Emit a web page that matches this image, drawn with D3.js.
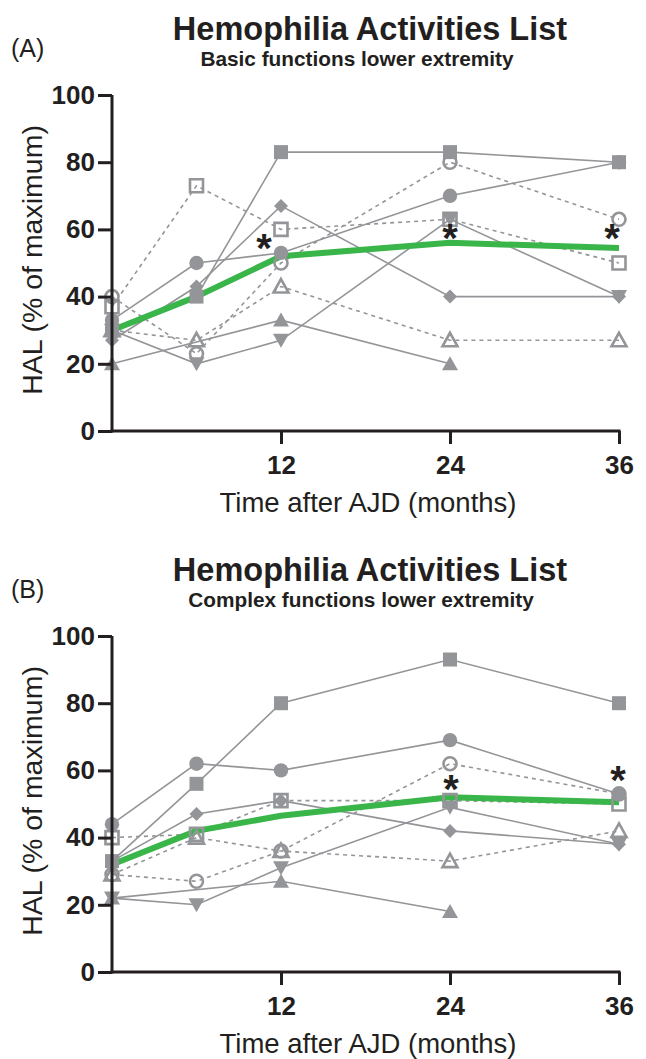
<!DOCTYPE html>
<html><head><meta charset="utf-8">
<script src="https://cdn.jsdelivr.net/npm/d3@7"></script>
<style>body{margin:0;background:#fff}svg{display:block}</style>
</head><body>
<svg id="c" width="646" height="1059"></svg>
<script>
// ---------- DATA ----------
const months = [0, 6, 12, 24, 36];
const xTickValues = [12, 24, 36];
const yTickValues = [0, 20, 40, 60, 80, 100];
const chartTitle = "Hemophilia Activities List";
const xLabel = "Time after AJD (months)";
const yLabel = "HAL (% of maximum)";

// Panel A - Basic functions lower extremity
const panelALabel = "(A)";
const panelASubtitle = "Basic functions lower extremity";
const aSquareFilled   = [30, 40, 83, 83, 80];
const aCircleFilled   = [33, 50, 53, 70, 80];
const aDiamondFilled  = [27, 43, 67, 40, 40];
const aTriUpFilled    = [20, null, 33, 20, null];
const aTriDownFilled  = [30, 20, 27, 63, 40];
const aSquareOpen     = [37, 73, 60, 63, 50];
const aCircleOpen     = [40, 23, 50, 80, 63];
const aTriUpOpen      = [30, 27, 43, 27, 27];
const aMean           = [30, 40, 52, 56, 54.5];
const aSigMonths      = [12, 24, 36];
const aSigLevels      = [56, 59, 59];

// Panel B - Complex functions lower extremity
const panelBLabel = "(B)";
const panelBSubtitle = "Complex functions lower extremity";
const bSquareFilled   = [33, 56, 80, 93, 80];
const bCircleFilled   = [44, 62, 60, 69, 53];
const bDiamondFilled  = [33, 47, 51, 42, 38];
const bTriUpFilled    = [22, null, 27, 18, null];
const bTriDownFilled  = [22, 20, 31, 49, 38];
const bSquareOpen     = [40, 41, 51, 51, 50];
const bCircleOpen     = [29, 27, 36, 62, 53];
const bTriUpOpen      = [29, 40, 36, 33, 42];
const bMean           = [32, 42, 46.5, 52, 50.5];
const bSigMonths      = [24, 36];
const bSigLevels      = [56, 58.6];

// ---------- STYLE ----------
const GRAY = "#939598", BLACK = "#231f20", GREEN = "#3ab54a";
const FONT = "'Liberation Sans', Arial, Helvetica, sans-serif";

function seriesList(sq, ci, di, tu, td, sqo, cio, tuo) {
  return [
    {v: sq,  shape: "square",  open: false},
    {v: ci,  shape: "circle",  open: false},
    {v: di,  shape: "diamond", open: false},
    {v: tu,  shape: "triUp",   open: false},
    {v: td,  shape: "triDown", open: false},
    {v: sqo, shape: "square",  open: true},
    {v: cio, shape: "circle",  open: true},
    {v: tuo, shape: "triUp",   open: true}
  ];
}

const panels = [
  {label: panelALabel, subtitle: panelASubtitle, top: 95, bottom: 431, yOff: 0,
   series: seriesList(aSquareFilled, aCircleFilled, aDiamondFilled, aTriUpFilled, aTriDownFilled, aSquareOpen, aCircleOpen, aTriUpOpen),
   mean: aMean, sigM: aSigMonths, sigL: aSigLevels, sigDx: [-17, 0, -7]},
  {label: panelBLabel, subtitle: panelBSubtitle, top: 636, bottom: 972, yOff: 541,
   series: seriesList(bSquareFilled, bCircleFilled, bDiamondFilled, bTriUpFilled, bTriDownFilled, bSquareOpen, bCircleOpen, bTriUpOpen),
   mean: bMean, sigM: bSigMonths, sigL: bSigLevels, sigDx: [1, -1]}
];

function shapePath(shape, open) {
  const s = open ? 6.5 : 7;
  switch (shape) {
    case "square": return `M${-s},${-s}H${s}V${s}H${-s}Z`;
    case "circle": { const r = open ? 6.5 : 7.2; return `M${r},0A${r},${r} 0 1,1 ${-r},0A${r},${r} 0 1,1 ${r},0Z`; }
    case "diamond": return `M0,-7L7,0L0,7L-7,0Z`;
    case "triUp": return open ? `M0,-7.5L7.5,6L-7.5,6Z` : `M0,-7.5L8,6.5L-8,6.5Z`;
    case "triDown": return `M0,7.5L8,-6.5L-8,-6.5Z`;
  }
}

const svg = d3.select("#c");
const x = d3.scaleLinear().domain([0, 36]).range([112, 619]);

panels.forEach(p => {
  const g = svg.append("g");
  const y = d3.scaleLinear().domain([0, 100]).range([p.bottom, p.top]);

  // headings
  g.append("text").attr("x", 11).attr("y", 57 + p.yOff)
    .attr("font-family", FONT).attr("font-size", 25).attr("fill", BLACK).text(p.label);
  g.append("text").attr("x", 370).attr("y", 40 + p.yOff).attr("text-anchor", "middle")
    .attr("font-family", FONT).attr("font-size", 32.5).attr("font-weight", "bold").attr("fill", BLACK).text(chartTitle);
  g.append("text").attr("x", p.yOff ? 361 : 357).attr("y", 66 + p.yOff).attr("text-anchor", "middle")
    .attr("font-family", FONT).attr("font-size", 20.8).attr("font-weight", "bold").attr("fill", BLACK).text(p.subtitle);

  // gray series lines
  const line = d3.line().x(d => x(d.m)).y(d => y(d.v));
  p.series.forEach(s => {
    const pts = months.map((m, i) => ({m, v: s.v[i]})).filter(d => d.v != null);
    g.append("path").attr("d", line(pts)).attr("fill", "none")
      .attr("stroke", GRAY).attr("stroke-width", 1.6)
      .attr("stroke-dasharray", s.open ? "4,4" : null);
  });

  // mean line
  const mpts = months.map((m, i) => ({m, v: p.mean[i]}));
  g.append("path").attr("d", line(mpts)).attr("fill", "none")
    .attr("stroke", GREEN).attr("stroke-width", 6).attr("stroke-linejoin", "round");

  // markers
  p.series.forEach(s => {
    const pts = months.map((m, i) => ({m, v: s.v[i]})).filter(d => d.v != null);
    g.selectAll(null).data(pts).enter().append("path")
      .attr("transform", d => `translate(${x(d.m)},${y(d.v)})`)
      .attr("d", shapePath(s.shape, s.open))
      .attr("fill", s.open ? "none" : GRAY)
      .attr("stroke", GRAY).attr("stroke-width", s.open ? 2.6 : 0);
  });

  // asterisks
  p.sigM.forEach((m, i) => {
    g.append("text").attr("x", x(m) + p.sigDx[i]).attr("y", y(p.sigL[i]) + 19)
      .attr("text-anchor", "middle").attr("font-family", FONT).attr("font-size", 40)
      .attr("font-weight", "bold").attr("fill", BLACK).text("*");
  });

  // axes
  const yAxis = d3.axisLeft(y).tickValues(yTickValues).tickSize(14).tickPadding(3).tickSizeOuter(0);
  const ya = g.append("g").attr("transform", `translate(112,0)`).call(yAxis);
  const xAxis = d3.axisBottom(x).tickValues(xTickValues).tickSize(13).tickPadding(12).tickSizeOuter(0);
  const xa = g.append("g").attr("transform", `translate(0,${p.bottom})`).call(xAxis);
  [ya, xa].forEach(a => {
    a.select(".domain").attr("stroke", BLACK).attr("stroke-width", 3);
    a.selectAll(".tick line").attr("stroke", BLACK).attr("stroke-width", 3);
    a.selectAll(".tick text").attr("fill", BLACK).attr("font-family", FONT)
      .attr("font-size", 26).attr("font-weight", "bold");
  });
  ya.select(".domain").attr("d", `M0,${p.bottom + 1.5}V${p.top}`);
  xa.select(".domain").attr("transform", `translate(${112 - 1.5},0)`).attr("d", `M0,0H${619 - 112 + 3}`);

  // axis labels
  g.append("text").attr("x", 368).attr("y", 512 + p.yOff).attr("text-anchor", "middle")
    .attr("font-family", FONT).attr("font-size", 27.5).attr("fill", BLACK).text(xLabel);
  g.append("text").attr("transform", `translate(42,${(p.top + p.bottom) / 2 - 3}) rotate(-90)`)
    .attr("text-anchor", "middle").attr("font-family", FONT).attr("font-size", 28.5).attr("fill", BLACK).text(yLabel);
});
</script>
</body></html>
